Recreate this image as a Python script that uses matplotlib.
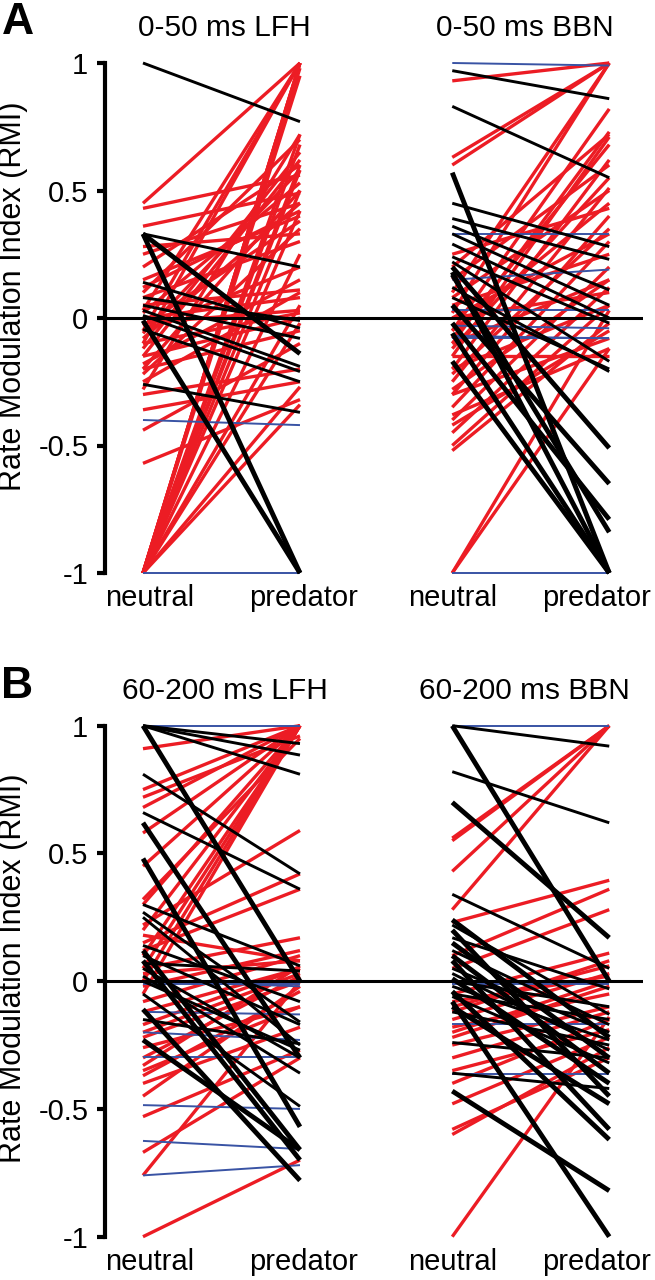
import matplotlib
matplotlib.use('Agg')
import matplotlib.pyplot as plt

plt.rcParams['font.family'] = ['Liberation Sans', 'DejaVu Sans']
plt.rcParams['axes.unicode_minus'] = False

RED = '#ec1c24'
BLUE = '#3953a4'
BLACK = '#000000'

# ---- data: (neutral, predator) RMI pairs ----
# Panel A, 0-50 ms LFH
a_lfh_red = [(0.45, 1.0), (0.43, 0.56), (0.36, 0.49), (0.28, 0.33), (0.25, 0.45), (0.20, 0.60),
             (0.15, 0.40), (0.10, 0.70), (0.08, 0.30), (0.05, 0.11), (0.02, 0.53), (0.00, 0.08),
             (-0.02, 0.03), (-0.05, 0.20), (-0.08, 0.45), (-0.10, 0.02), (-0.12, 0.65), (-0.15, 0.00),
             (-0.18, 0.15), (-0.20, -0.05), (-0.22, 0.35), (-0.25, 0.10), (-0.30, -0.20), (-0.36, -0.25),
             (-0.44, -0.10), (-0.57, -0.32), (0.03, 1.0), (-0.05, 1.0), (-0.10, 1.0), (-0.15, 0.62),
             (-0.06, 0.58), (0.12, 0.42), (-0.03, 0.38), (-0.20, 0.50), (-0.28, 0.72),
             (-1.0, 1.0), (-1.0, 1.0), (-1.0, 1.0), (-1.0, 0.98), (-1.0, 0.95), (-1.0, 0.72),
             (-1.0, 0.68), (-1.0, 0.60), (-1.0, 0.58), (-1.0, 0.50), (-1.0, 0.42), (-1.0, 0.25),
             (-1.0, 0.05), (-1.0, -0.02), (-1.0, -0.27), (-1.0, -0.34)]
a_lfh_black = [(1.0, 0.77), (0.33, 0.20), (0.14, -0.04), (0.08, -0.01), (0.05, -0.08), (0.03, -0.19),
               (0.01, -0.21), (-0.045, -0.25), (-0.26, -0.37)]
a_lfh_black_thick = [(0.33, -1.0), (0.33, -0.14), (-0.01, -1.0)]
a_lfh_blue = [(0.0, 0.0), (-0.40, -0.42), (-1.0, -1.0)]

# Panel A, 0-50 ms BBN
a_bbn_red = [(0.93, 1.0), (0.63, 1.0), (0.60, 1.0), (0.10, 1.0), (0.02, 1.0), (-0.05, 0.82),
             (-0.10, 0.73), (-0.15, 0.71), (-0.20, 0.62), (0.15, 0.60), (-0.25, 0.51), (0.25, 0.43),
             (-0.30, 0.40), (0.00, 0.33), (-0.35, 0.30), (0.05, 0.25), (-0.40, 0.20), (-0.45, 0.12),
             (-0.10, 0.15), (-0.50, 0.05), (-0.52, -0.02), (0.00, 0.10), (-0.20, 0.05), (-0.30, -0.08),
             (-0.15, -0.15), (-0.38, -0.12), (-1.0, -0.12), (-1.0, 0.03), (-0.05, 0.45), (-0.12, 0.55),
             (-0.22, 0.35), (-0.08, 0.68), (0.08, 0.50), (-0.28, 0.15), (-0.42, -0.05), (0.20, 0.72)]
a_bbn_black = [(0.97, 0.86), (0.83, 0.55), (0.45, 0.28), (0.39, 0.23), (0.36, 0.11), (0.33, 0.05),
               (0.29, 0.00), (0.24, -0.02), (0.22, -0.17), (0.12, -0.21), (0.08, -0.20)]
a_bbn_black_thick = [(0.57, -1.0), (0.20, -0.51), (0.18, -1.0), (0.17, -0.84), (0.05, -0.65),
                     (-0.02, -0.79), (-0.06, -1.0), (-0.17, -1.0)]
a_bbn_blue = [(1.0, 0.99), (0.33, 0.33), (0.15, 0.19), (0.03, 0.03), (-0.03, -0.04),
              (-0.07, -0.08), (-0.08, -0.08), (-1.0, -1.0)]

# Panel B, 60-200 ms LFH
b_lfh_red = [(0.91, 1.0), (0.75, 1.0), (0.72, 0.96), (0.68, 1.0), (0.58, 1.0), (0.45, 1.0),
             (0.30, 1.0), (0.20, 1.0), (0.10, 1.0), (0.05, 1.0), (0.00, 1.0), (-0.05, 1.0),
             (0.22, 0.59), (0.15, 0.42), (0.05, 0.17), (-0.02, 0.12), (0.03, 0.08), (-0.08, 0.10),
             (-0.17, 0.05), (-0.20, 0.03), (-0.22, 0.00), (-0.37, -0.04), (-0.35, -0.10), (-0.40, -0.18),
             (-0.53, -0.27), (-0.45, -0.02), (-0.67, -0.30), (-0.76, 0.00), (-1.0, -0.70), (-0.30, 0.02),
             (-0.12, 0.05), (0.32, 0.95), (0.12, 0.36), (-0.26, -0.10), (0.18, 0.08), (-0.33, 0.06)]
b_lfh_black = [(1.0, 0.93), (1.0, 0.885), (1.0, 0.81), (0.81, 0.42), (0.66, 0.36), (0.30, 0.06),
               (0.27, -0.16), (0.25, -0.25), (0.14, -0.08), (0.10, -0.17), (0.05, -0.30),
               (0.02, -0.36), (-0.05, -0.49), (-0.15, -0.245), (0.07, 0.04), (0.00, -0.27)]
b_lfh_black_thick = [(1.0, 0.0), (0.62, -0.30), (0.48, -0.57), (0.12, -0.66), (0.08, -0.70),
                     (-0.11, -0.78), (-0.23, -0.66)]
b_lfh_blue = [(1.0, 1.0), (-0.01, -0.01), (0.0, -0.02), (-0.12, -0.13), (-0.20, -0.23),
              (-0.295, -0.295), (-0.485, -0.50), (-0.625, -0.657), (-0.76, -0.72)]

# Panel B, 60-200 ms BBN
b_bbn_red = [(0.56, 1.0), (0.55, 1.0), (0.43, 1.0), (0.28, 1.0), (0.23, 0.395), (0.10, 0.36),
             (0.05, 0.28), (-0.05, 0.11), (-0.10, 0.06), (-0.15, 0.03), (-0.18, -0.05), (-0.20, 0.00),
             (-0.25, -0.10), (-0.30, -0.12), (-0.35, -0.19), (-0.40, -0.15), (-0.48, -0.22),
             (-0.58, -0.30), (-0.60, -0.26), (-1.0, -0.14), (-0.12, 0.08), (-0.22, -0.02), (-0.08, 0.02)]
b_bbn_black = [(1.0, 0.92), (0.82, 0.62), (0.34, 0.05), (0.22, -0.13), (0.17, -0.03), (0.12, -0.17),
               (0.05, -0.20), (0.03, -0.27), (-0.02, -0.23), (-0.06, -0.32), (-0.12, -0.25),
               (-0.24, -0.30), (-0.36, -0.42), (0.00, -0.10), (-0.05, -0.15)]
b_bbn_black_thick = [(1.0, 0.0), (0.70, 0.17), (0.24, -0.22), (0.20, -0.45), (0.15, -0.30),
                     (0.10, -0.36), (0.08, -0.58), (0.01, -0.40), (-0.04, -0.62), (-0.08, -1.0),
                     (-0.10, -0.48), (-0.43, -0.82)]
b_bbn_blue = [(1.0, 1.0), (-0.01, -0.01), (-0.167, -0.167), (-0.363, -0.363)]

titles_a = ['0-50 ms LFH', '0-50 ms BBN']
titles_b = ['60-200 ms LFH', '60-200 ms BBN']
condition_labels = ['neutral', 'predator']
yticks = [-1, -0.5, 0, 0.5, 1]
ytick_labels = ['-1', '-0.5', '0', '0.5', '1']

# x positions of the two stimulus groups
x_lfh = (0.0, 1.0)
x_bbn = (1.97, 2.97)

fig = plt.figure(figsize=(6.55, 12.8), dpi=100)


def draw_group(ax, xs, red, black, black_thick, blue):
    for n, p in red:
        ax.plot(xs, [n, p], color=RED, lw=2.4, solid_capstyle='butt', clip_on=False, zorder=2)
    for n, p in blue:
        ax.plot(xs, [n, p], color=BLUE, lw=1.4, solid_capstyle='butt', clip_on=False, zorder=3)
    for n, p in black:
        ax.plot(xs, [n, p], color=BLACK, lw=2.1, solid_capstyle='butt', clip_on=False, zorder=4)
    for n, p in black_thick:
        ax.plot(xs, [n, p], color=BLACK, lw=3.5, solid_capstyle='butt', clip_on=False, zorder=4)


def setup_panel(ax, titles):
    ax.set_xlim(-0.242, 3.185)
    ax.set_ylim(-1, 1)
    ax.axhline(0, color='black', lw=2.2, zorder=5)
    for s in ['top', 'right', 'bottom']:
        ax.spines[s].set_visible(False)
    ax.spines['left'].set_linewidth(3)
    ax.spines['left'].set_bounds(-1, 1)
    ax.set_xticks([])
    ax.set_yticks(yticks)
    ax.set_yticklabels(ytick_labels)
    ax.tick_params(axis='y', length=6, width=3, pad=6, labelsize=21)
    ax.text(0.52, 1.137, titles[0], ha='center', va='center', fontsize=21.5)
    ax.text(2.43, 1.137, titles[1], ha='center', va='center', fontsize=21.5)
    label_x = [0.04, 1.02, 1.97, 2.89]
    for i, xx in enumerate(label_x):
        ax.text(xx, -1.1, condition_labels[i % 2], ha='center', va='center', fontsize=21)


ax_a = fig.add_axes([105 / 655, 1 - 573 / 1280, 538 / 655, 510 / 1280])
draw_group(ax_a, x_lfh, a_lfh_red, a_lfh_black, a_lfh_black_thick, a_lfh_blue)
draw_group(ax_a, x_bbn, a_bbn_red, a_bbn_black, a_bbn_black_thick, a_bbn_blue)
setup_panel(ax_a, titles_a)

ax_b = fig.add_axes([105 / 655, 1 - 1236.7 / 1280, 538 / 655, 511 / 1280])
draw_group(ax_b, x_lfh, b_lfh_red, b_lfh_black, b_lfh_black_thick, b_lfh_blue)
draw_group(ax_b, x_bbn, b_bbn_red, b_bbn_black, b_bbn_black_thick, b_bbn_blue)
setup_panel(ax_b, titles_b)

# y labels and panel letters
fig.text(13 / 655, 1 - 296 / 1280, 'Rate Modulation Index (RMI)', rotation=90,
         ha='center', va='center', fontsize=22)
fig.text(13 / 655, 1 - 968 / 1280, 'Rate Modulation Index (RMI)', rotation=90,
         ha='center', va='center', fontsize=22)
fig.text(18 / 655, 1 - 22 / 1280, 'A', fontsize=32, fontweight='bold', ha='center', va='center')
fig.text(17 / 655, 1 - 686 / 1280, 'B', fontsize=32, fontweight='bold', ha='center', va='center')

fig.savefig('out.png', dpi=100)
